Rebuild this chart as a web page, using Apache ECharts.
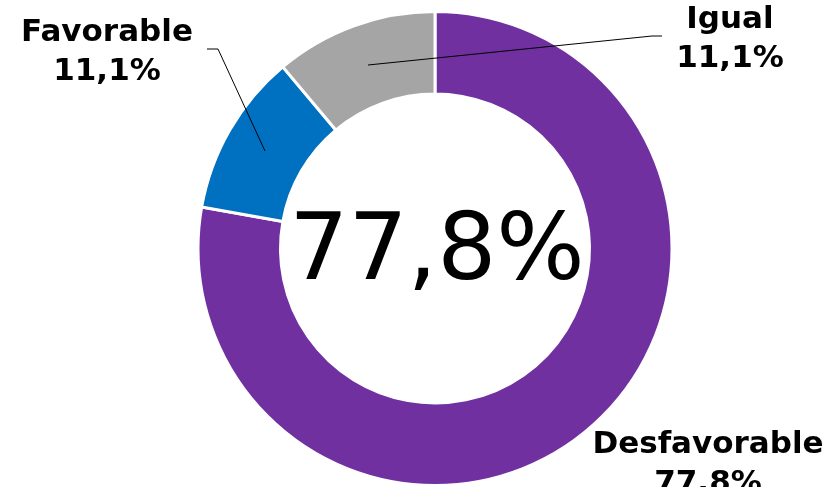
<!DOCTYPE html>
<html>
<head>
<meta charset="utf-8">
<script src="https://cdn.jsdelivr.net/npm/echarts@6/dist/echarts.min.js"></script>
<style>
html,body{margin:0;padding:0;background:#fff;}
#chart{width:833px;height:487px;}
</style>
</head>
<body>
<div id="chart"></div>
<script>
const categories = ['Desfavorable', 'Favorable', 'Igual'];
const values = [77.8, 11.1, 11.1];
const colors = ['#7030A0', '#0070C0', '#A5A5A5'];
const centerValue = values[0];

function fmt(v) { return v.toFixed(1).replace('.', ',') + '%'; }

// label placement (style only)
const labelPos = [
  { x: 708, y: 464, line: null },
  { x: 107, y: 52, line: [[265, 151], [218, 49], [207, 49]] },
  { x: 730, y: 39, line: [[368, 65], [652, 36], [662, 36]] }
];

const pieCenter = [435, 248.5];
const pieRadius = [154.5, 237];

const chart = echarts.init(document.getElementById('chart'), null, { renderer: 'canvas' });
chart.setOption({
  animation: false,
  backgroundColor: '#ffffff',
  graphic: [{
    type: 'text',
    x: 437,
    y: 255,
    style: {
      text: fmt(centerValue),
      font: '93px "DejaVu Sans"',
      fill: '#000',
      textAlign: 'center',
      textVerticalAlign: 'middle'
    },
    z: 10
  }],
  series: [
    {
      type: 'pie',
      z: 2,
      center: pieCenter,
      radius: pieRadius,
      startAngle: 90,
      clockwise: true,
      silent: true,
      itemStyle: { borderColor: '#ffffff', borderWidth: 3 },
      label: { show: false },
      labelLine: { show: false },
      data: categories.map((c, i) => ({ name: c, value: values[i], itemStyle: { color: colors[i] } }))
    },
    {
      type: 'pie',
      z: 5,
      center: pieCenter,
      radius: pieRadius,
      startAngle: 90,
      clockwise: true,
      silent: true,
      avoidLabelOverlap: false,
      itemStyle: { color: 'rgba(0,0,0,0)', borderWidth: 0 },
      label: {
        show: true,
        position: 'outside',
        formatter: p => p.name + '\n' + fmt(p.value),
        fontFamily: 'DejaVu Sans',
        fontWeight: 'bold',
        fontSize: 31,
        lineHeight: 39,
        color: '#000',
        align: 'center'
      },
      labelLine: { show: true, showAbove: true, lineStyle: { color: '#000', width: 1 } },
      labelLayout: function (params) {
        const p = labelPos[params.dataIndex];
        const out = { x: p.x, y: p.y, align: 'center', verticalAlign: 'middle', hideOverlap: false };
        if (p.line) out.labelLinePoints = p.line;
        return out;
      },
      data: categories.map((c, i) => ({
        name: c,
        value: values[i],
        labelLine: { show: labelPos[i].line !== null }
      }))
    }
  ]
});
</script>
</body>
</html>
